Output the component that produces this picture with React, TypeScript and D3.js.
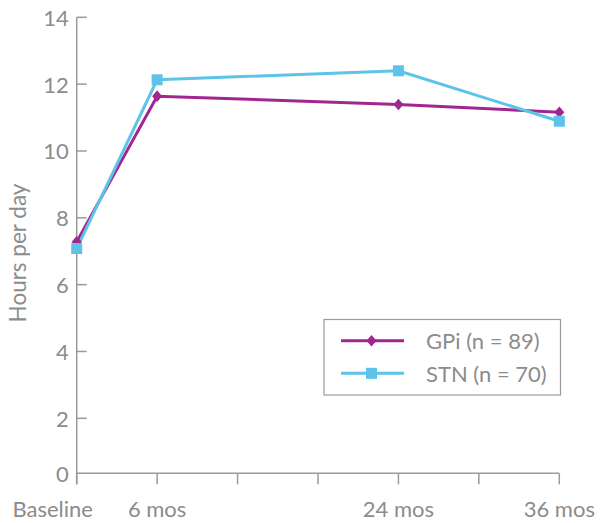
import React from "react";
import * as d3 from "d3";

const months = [0, 6, 24, 36];
const xTickMonths = [0, 6, 12, 18, 24, 30, 36];
const xLabels = ["Baseline", "6 mos", "24 mos", "36 mos"];
const yTicks = [0, 2, 4, 6, 8, 10, 12, 14];
const gpiValues = [7.28, 11.64, 11.39, 11.16];
const stnValues = [7.08, 12.13, 12.4, 10.89];
const seriesNames = ["GPi (n = 89)", "STN (n = 70)"];

const W = 605;
const H = 523;
const GRAY = "#9a9a9a";
const TEXT = "#8c8c8c";
const PURPLE = "#a2268f";
const BLUE = "#5ec3e8";
const FONT = "Lato, 'Open Sans', sans-serif";
const FS = 22;

export default function App() {
  const x = d3.scaleLinear().domain([0, 36]).range([76.7, 559.3]);
  const y = d3.scaleLinear().domain([0, 2, 14]).range([473.3, 418.3, 17.3]);
  const line = d3
    .line<number>()
    .x((_, i) => x(months[i]))
    .y((d) => y(d));
  const diamond = (cx: number, cy: number) =>
    `M${cx},${cy - 5.8}L${cx + 5},${cy}L${cx},${cy + 5.8}L${cx - 5},${cy}Z`;
  const labelOffset = [-24, 0, 0, 0];

  return (
    <svg width={W} height={H} style={{ position: "absolute", left: 0, top: 0 }}>
      <rect width={W} height={H} fill="#fff" />
      {/* y axis */}
      <line x1={x(0)} x2={x(0)} y1={y(14)} y2={y(0) + 11} stroke={GRAY} strokeWidth={1.5} />
      {yTicks.map((t) => (
        <g key={t}>
          {t > 0 && (
            <line x1={x(0)} x2={x(0) + 10} y1={y(t)} y2={y(t)} stroke={GRAY} strokeWidth={1.5} />
          )}
          <text
            x={x(0) - 8}
            y={y(t)}
            textAnchor="end"
            dominantBaseline="central"
            fontFamily={FONT}
            fontSize={FS}
            fill={TEXT}
          >
            {t}
          </text>
        </g>
      ))}
      {/* x axis */}
      <line x1={x(0)} x2={x(36)} y1={y(0)} y2={y(0)} stroke={GRAY} strokeWidth={1.5} />
      {xTickMonths.map((m) => (
        <line key={m} x1={x(m)} x2={x(m)} y1={y(0)} y2={y(0) + 11} stroke={GRAY} strokeWidth={1.5} />
      ))}
      {months.map((m, i) => (
        <text
          key={m}
          x={x(m) + labelOffset[i]}
          y={517}
          textAnchor="middle"
          fontFamily={FONT}
          fontSize={FS}
          fill={TEXT}
        >
          {xLabels[i]}
        </text>
      ))}
      <text
        transform={`translate(26,${253}) rotate(-90)`}
        textAnchor="middle"
        fontFamily={FONT}
        fontSize={FS + 0.5}
        fill={TEXT}
      >
        Hours per day
      </text>
      {/* series */}
      <path d={line(gpiValues) || ""} fill="none" stroke={PURPLE} strokeWidth={3} />
      <path d={line(stnValues) || ""} fill="none" stroke={BLUE} strokeWidth={3} />
      {gpiValues.map((v, i) => (
        <path key={"g" + i} d={diamond(x(months[i]), y(v))} fill={PURPLE} />
      ))}
      {stnValues.map((v, i) => (
        <rect key={"s" + i} x={x(months[i]) - 5.5} y={y(v) - 5.5} width={11} height={11} fill={BLUE} />
      ))}
      {/* legend */}
      <rect x={324} y={319.5} width={236.5} height={75.5} fill="#fff" stroke={GRAY} strokeWidth={1.2} />
      <line x1={341} x2={404} y1={340.7} y2={340.7} stroke={PURPLE} strokeWidth={3} />
      <path d={diamond(371.5, 340.7)} fill={PURPLE} />
      <text x={426} y={340.7} dominantBaseline="central" fontFamily={FONT} fontSize={FS} fill={TEXT}>
        {seriesNames[0]}
      </text>
      <line x1={341} x2={404} y1={373.3} y2={373.3} stroke={BLUE} strokeWidth={3} />
      <rect x={366} y={367.8} width={11} height={11} fill={BLUE} />
      <text x={426} y={373.3} dominantBaseline="central" fontFamily={FONT} fontSize={FS} fill={TEXT}>
        {seriesNames[1]}
      </text>
    </svg>
  );
}
